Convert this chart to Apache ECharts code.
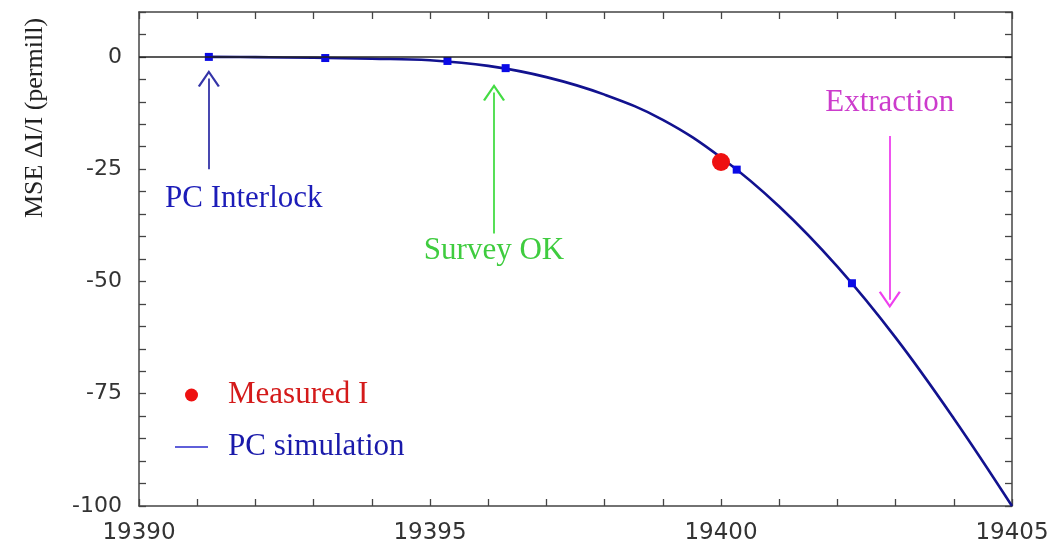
<!DOCTYPE html>
<html>
<head>
<meta charset="utf-8">
<script src="https://cdn.jsdelivr.net/npm/echarts@6/dist/echarts.min.js"></script>
<style>
html, body { margin: 0; padding: 0; background: #fff; }
#main { width: 1063px; height: 546px; }
</style>
</head>
<body>
<div id="main"></div>
<script>
// PC simulation curve (day, permill)
var simX = [19391.2, 19392, 19393, 19394, 19395, 19396, 19397, 19398, 19399, 19400, 19401, 19402, 19403, 19404, 19405];
var simY = [0, -0.05, -0.2, -0.4, -0.75, -2.0, -4.5, -8.4, -14.0, -22.4, -33.3, -46.7, -62.5, -80.5, -100];
// simulation points drawn as squares
var pointX = [19391.2, 19393.2, 19395.3, 19396.3, 19400.27, 19402.25];
var pointY = [0, -0.25, -0.9, -2.5, -25.1, -50.4];
// measured current
var measX = [19400];
var measY = [-23.4];
// annotations: text position, arrow shaft
var noteText = ['PC Interlock', 'Survey OK', 'Extraction'];
var noteX = [19391.8, 19396.1, 19402.9];
var noteY = [-31.6, -43.2, -10.3];
var arrowX = [19391.2, 19396.1, 19402.9];
var arrowFrom = [-25, -39.3, -17.6];
var arrowTo = [-2.9, -6.0, -56];

var noteColor = ['#1c1cb8', '#3fcc3f', '#cc3ccc'];
var arrowColor = ['#3434a8', '#44dc44', '#ee40ee'];
var serif = 'Liberation Serif';
var chevron = 'path://M0,17 L11,0 L22,17 L20,18 L11,4 L2,18 Z';

var myChart = echarts.init(document.getElementById('main'));

function zip(a, b) {
	return a.map(function (v, i) { return [v, b[i]]; });
}

// one markLine per arrow, the head drawn as an open chevron
var arrowLines = arrowX.map(function (x, i) {
	var dir = arrowTo[i] > arrowFrom[i] ? 1 : -1;
	var ls = { color: arrowColor[i], width: 1.8, type: 'solid', opacity: 1 };
	return [
		{ coord: [x, arrowFrom[i]], symbol: 'none', lineStyle: ls, itemStyle: { color: arrowColor[i] } },
		{
			coord: [x, arrowTo[i] - dir * 1.9],
			symbol: chevron,
			symbolSize: [22, 17],
			lineStyle: ls,
			itemStyle: { color: arrowColor[i] }
		}
	];
});

var notes = noteText.map(function (t, i) {
	return {
		name: t,
		value: [noteX[i], noteY[i]],
		label: { color: noteColor[i] }
	};
});

var axisCommon = {
	type: 'value',
	axisLine: { onZero: false, lineStyle: { color: '#444', width: 1.5 } },
	axisTick: { inside: true, length: 7, lineStyle: { color: '#444', width: 1.3 } },
	splitLine: { show: false }
};

var option = {
	animation: false,
	backgroundColor: '#fff',
	grid: { left: 139, right: 51, top: 12, bottom: 40, containLabel: false },
	xAxis: [
		Object.assign({}, axisCommon, {
			position: 'bottom', min: 19390, max: 19405, interval: 1,
			axisLabel: {
				formatter: function (v) { return v % 5 === 0 ? String(v) : ''; },
				fontFamily: 'DejaVu Sans', fontSize: 23, color: '#333', margin: 16
			}
		}),
		Object.assign({}, axisCommon, {
			position: 'top', min: 19390, max: 19405, interval: 1,
			axisLabel: { show: false }
		})
	],
	yAxis: [
		Object.assign({}, axisCommon, {
			position: 'left', min: -100, max: 10, interval: 5,
			axisLabel: {
				formatter: function (v) { return v % 25 === 0 ? String(v) : ''; },
				fontFamily: 'DejaVu Sans', fontSize: 22, color: '#333', margin: 17
			}
		}),
		Object.assign({}, axisCommon, {
			position: 'right', min: -100, max: 10, interval: 5,
			axisLabel: { show: false }
		})
	],
	legend: {
		orient: 'vertical',
		left: 175,
		top: 379,
		padding: 0,
		itemWidth: 33,
		itemHeight: 13,
		itemGap: 20,
		selectedMode: false,
		textStyle: { fontFamily: serif, fontSize: 31, lineHeight: 32, padding: [0, 0, 0, 15] },
		data: [
			{ name: 'Measured I', icon: 'circle', itemStyle: { color: '#ee1111', opacity: 1 }, textStyle: { color: '#d41a1a' } },
			{
				name: 'PC simulation',
				icon: 'path://M0,0 L33,0 L33,1.6 L0,1.6 Z',
				itemStyle: { color: '#2a2acc' },
				textStyle: { color: '#1a1aaa' }
			}
		]
	},
	graphic: [
		{
			type: 'text',
			x: 35,
			y: 118,
			rotation: Math.PI / 2,
			style: {
				text: 'MSE \u0394I/I (permill)',
				fontFamily: serif,
				fontSize: 26,
				fill: '#222',
				align: 'center',
				verticalAlign: 'middle'
			}
		}
	],
	series: [
		{
			name: 'zero',
			type: 'line',
			data: [],
			z: 1,
			markLine: {
				silent: true,
				symbol: 'none',
				label: { show: false },
				lineStyle: { color: '#222', width: 1.5, type: 'solid', opacity: 1 },
				data: [{ yAxis: 0 }]
			}
		},
		{
			name: 'PC simulation',
			type: 'line',
			data: zip(simX, simY),
			smooth: 0.4,
			symbol: 'none',
			z: 2,
			itemStyle: { color: '#12128f' },
			lineStyle: { color: '#12128f', width: 2.6 }
		},
		{
			name: 'PC points',
			type: 'scatter',
			data: zip(pointX, pointY),
			symbol: 'rect',
			symbolSize: 8,
			z: 3,
			itemStyle: { color: '#0a0ae6', opacity: 1 }
		},
		{
			name: 'Measured I',
			type: 'scatter',
			data: zip(measX, measY),
			symbol: 'circle',
			symbolSize: 18,
			z: 4,
			itemStyle: { color: '#ee1111', opacity: 1 }
		},
		{
			name: 'arrows',
			type: 'line',
			data: [],
			z: 5,
			markLine: {
				silent: true,
				label: { show: false },
				data: arrowLines
			}
		},
		{
			name: 'notes',
			type: 'scatter',
			data: notes,
			symbolSize: 1,
			z: 6,
			itemStyle: { color: 'transparent', opacity: 1 },
			label: {
				show: true,
				position: 'inside',
				formatter: '{b}',
				fontFamily: serif,
				fontSize: 31
			}
		}
	]
};

myChart.setOption(option);
</script>
</body>
</html>
